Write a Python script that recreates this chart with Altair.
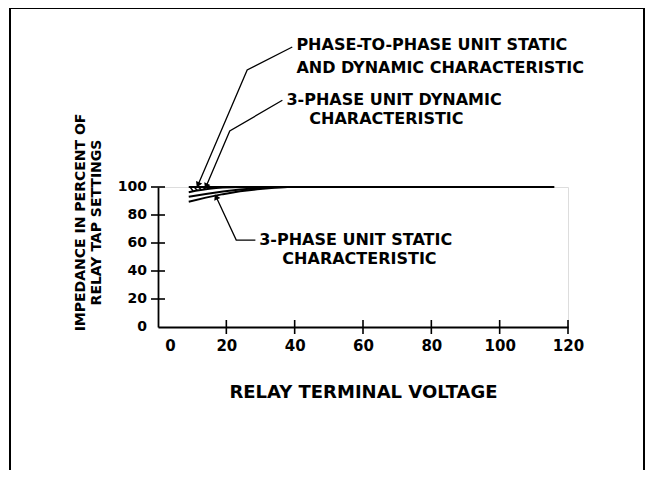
import altair as alt
import pandas as pd
import numpy as np

# ---------------- data ----------------
x_ticks = [0, 20, 40, 60, 80, 100, 120]
y_ticks = [0, 20, 40, 60, 80, 100]

p2p_x = [9, 20, 40, 60, 80, 100, 116]
p2p_y = [100, 100, 100, 100, 100, 100, 100]

dyn_x = [9, 11, 13, 15, 17, 19, 22, 25]
dyn_y = [96.3, 97.3, 98.1, 98.8, 99.3, 99.6, 99.9, 100]

stat_hi_x = [9, 14, 19, 24, 29, 34, 38]
stat_hi_y = [93.0, 95.0, 96.8, 98.2, 99.2, 99.8, 100]

stat_lo_x = [9, 14, 19, 24, 29, 34, 38]
stat_lo_y = [89.5, 92.4, 94.9, 96.9, 98.4, 99.5, 100]

hatch_x = [9.4, 10.6, 11.8, 13.0, 14.2, 15.4]

# annotation leaders (data units)
lead_p2p_x = [39.3, 26.1, 11.7]
lead_p2p_y = [200, 183.6, 101.5]
lead_dyn_x = [36.4, 21.0, 14.1]
lead_dyn_y = [162, 140, 100.5]
lead_sta_x = [28.5, 22.9, 17.0]
lead_sta_y = [62.1, 62.1, 93.0]

label_text = ["PHASE-TO-PHASE UNIT STATIC", "AND DYNAMIC CHARACTERISTIC",
              "3-PHASE UNIT DYNAMIC", "CHARACTERISTIC",
              "3-PHASE UNIT STATIC", "CHARACTERISTIC"]
label_x = [40.5, 40.5, 37.6, 44.3, 29.6, 36.4]
label_y = [201.4, 185, 162.1, 148.6, 62.1, 48.6]

W, H = 410, 140
XD, YD = [0, 120], [0, 100]
FONT = "DejaVu Sans"

xs = alt.Scale(domain=XD, nice=False, zero=False)
ys = alt.Scale(domain=YD, nice=False, zero=False)

def curve(xv, yv, name):
    return pd.DataFrame({"x": xv, "y": yv, "s": name})

curves = pd.concat([
    curve(p2p_x, p2p_y, "p2p"),
    curve(dyn_x, dyn_y, "dyn"),
    curve(stat_hi_x, stat_hi_y, "shi"),
    curve(stat_lo_x, stat_lo_y, "slo"),
])

leaders = pd.concat([
    curve(lead_p2p_x, lead_p2p_y, "a"),
    curve(lead_dyn_x, lead_dyn_y, "b"),
    curve(lead_sta_x, lead_sta_y, "c"),
])

# arrow heads at the end of each leader
kx, ky = W / (XD[1] - XD[0]), H / (YD[1] - YD[0])
heads = []
for lx, ly in [(lead_p2p_x, lead_p2p_y), (lead_dyn_x, lead_dyn_y), (lead_sta_x, lead_sta_y)]:
    dx = (lx[-1] - lx[-2]) * kx
    dy = -(ly[-1] - ly[-2]) * ky
    ang = float(np.degrees(np.arctan2(dx, -dy)) % 360)
    heads.append({"x": lx[-1], "y": ly[-1], "a": ang})
heads = pd.DataFrame(heads)

hy = np.interp([h + 0.9 for h in hatch_x], dyn_x, dyn_y)
hatch = pd.DataFrame({"x": hatch_x, "y": [100] * len(hatch_x),
                      "x2": [h + 0.9 for h in hatch_x], "y2": hy})

labels = pd.DataFrame({"t": label_text, "x": label_x, "y": label_y})

tick_df_x = pd.DataFrame({"v": x_ticks[1:]})
tick_df_y = pd.DataFrame({"v": y_ticks[1:]})
ylab_df = pd.DataFrame({"v": y_ticks, "t": [str(v) for v in y_ticks]})

base_x = alt.X("x:Q", scale=xs, axis=alt.Axis(
    values=x_ticks, ticks=False, domain=True, domainColor="black", domainWidth=1.8,
    labelFontSize=15, labelFont=FONT, labelFontWeight="bold", labelColor="black",
    labelPadding=11, grid=False, labelOverlap=False, labelFlush=False,
    labelOffset={"condition": {"test": "datum.value == 0", "value": 12}, "value": 0},
    title="RELAY TERMINAL VOLTAGE", titleFont=FONT, titleFontSize=18, titleFontWeight="bold",
    titleColor="black", titleY=65, titleBaseline="middle"))
base_y = alt.Y("y:Q", scale=ys, axis=alt.Axis(
    values=y_ticks, ticks=False, domain=True, domainColor="black", domainWidth=1.8,
    labels=False, grid=False,
    title=["IMPEDANCE IN PERCENT OF", "RELAY TAP SETTINGS"], titleFont=FONT, titleFontSize=14,
    titleFontWeight="bold", titleColor="black", titleAngle=270, titleX=-78, titleY=35,
    titleAlign="center", titleBaseline="middle"))

sx = alt.X("x:Q", scale=xs)
sy = alt.Y("y:Q", scale=ys)

lines = alt.Chart(curves).mark_line(color="black", strokeWidth=2).encode(
    x=base_x, y=base_y, detail="s:N")

hatch_m = alt.Chart(hatch).mark_rule(color="black", strokeWidth=1.4).encode(
    x=sx, y=sy, x2="x2:Q", y2="y2:Q")

lead_m = alt.Chart(leaders).mark_line(color="black", strokeWidth=1.3).encode(
    x=sx, y=sy, detail="s:N")

head_m = alt.Chart(heads).mark_point(shape="triangle-up", filled=True, color="black",
                                      size=45, opacity=1).encode(
    x=sx, y=sy, angle=alt.Angle("a:Q", scale=None))

text_m = alt.Chart(labels).mark_text(align="left", baseline="middle", font=FONT,
                                      fontSize=16, fontWeight="bold", color="black").encode(
    x=sx, y=sy, text="t:N")

ylab_m = alt.Chart(ylab_df).mark_text(align="right", baseline="middle", font=FONT,
                                       fontSize=14, fontWeight="bold", color="black", dx=-11).encode(
    y=alt.Y("v:Q", scale=ys), x=alt.datum(0, scale=xs), text="t:N")

xtick_m = alt.Chart(tick_df_x).mark_rule(color="black", strokeWidth=1.6, yOffset=-7, y2Offset=7).encode(
    x=alt.X("v:Q", scale=xs), y=alt.datum(0, scale=ys), y2=alt.datum(0))
ytick_m = alt.Chart(tick_df_y).mark_rule(color="black", strokeWidth=1.6, xOffset=-7, x2Offset=7).encode(
    y=alt.Y("v:Q", scale=ys), x=alt.datum(0, scale=xs), x2=alt.datum(0))

frame = alt.Chart(pd.DataFrame({"k": [0]})).mark_rect(
    filled=False, stroke="black", strokeWidth=2).encode(
    x=alt.value(-148), x2=alt.value(486), y=alt.value(-179), y2=alt.value(400))

chart = alt.layer(frame, lines, hatch_m, lead_m, head_m, text_m, ylab_m, xtick_m, ytick_m).properties(
    width=W, height=H,
    autosize=alt.AutoSizeParams(type="none"),
    padding={"left": 150, "top": 179, "right": 77, "bottom": 143},
).configure_view(stroke=None).configure_axis(labelOverlap=False).configure(background="white")

chart.save("out.html", embed_options={"renderer": "svg", "actions": False})
